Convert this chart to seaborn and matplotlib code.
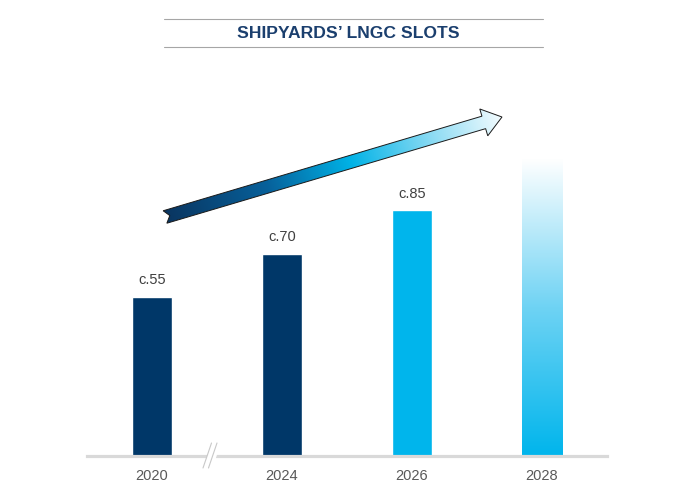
import numpy as np
import pandas as pd
import matplotlib
matplotlib.use("Agg")
import matplotlib.pyplot as plt
from matplotlib.patches import Polygon
from matplotlib.colors import LinearSegmentedColormap
import seaborn as sns

# ---- data ----
years = ["2020", "2024", "2026", "2028"]
slots = [55, 70, 85, 103]
value_labels = ["c.55", "c.70", "c.85", ""]
title = "SHIPYARDS\u2019 LNGC SLOTS"

NAVY = "#003768"
CYAN = "#00B5EC"

sns.set_theme(style="white")
plt.rcParams["font.family"] = ["Liberation Sans", "DejaVu Sans"]

W, H = 700, 488
fig = plt.figure(figsize=(W / 100, H / 100), dpi=100)

# main axes: baseline at y=456px, x from 87 to 607px
base_px = 456
scale = 159 / 55.0  # px per unit
ymax = 120
ax = fig.add_axes([87 / W, (H - base_px) / H, 520 / W, ymax * scale / H])

df = pd.DataFrame({"year": years, "slots": slots})
palette = {"2020": NAVY, "2024": NAVY, "2026": CYAN, "2028": CYAN}
sns.barplot(data=df, x="year", y="slots", hue="year", palette=palette,
            width=0.315, legend=False, ax=ax, saturation=1)
ax.set_xlim(-0.5, 3.5)
ax.set_ylim(0, ymax)
ax.set_xlabel("")
ax.set_ylabel("")
ax.set_yticks([])
for s in ["left", "right", "top"]:
    ax.spines[s].set_visible(False)
ax.spines["bottom"].set_color("#D9D9D9")
ax.spines["bottom"].set_linewidth(2.3)
ax.tick_params(axis="x", length=0, pad=9, labelsize=10.5, labelcolor="#595959")
ax.patch.set_alpha(0)

# value labels
for i, (v, lab) in enumerate(zip(slots, value_labels)):
    if lab:
        ax.annotate(lab, (i, v), xytext=(0, 7), textcoords="offset points",
                    ha="center", va="bottom", fontsize=10.5, color="#404040")

# gradient for 2028 bar (cyan at bottom fading to white at top)
patch = ax.patches[3]
patch.set_facecolor("none")
patch.set_edgecolor("none")
x0, y0 = patch.get_x(), patch.get_y()
pw, ph = patch.get_width(), patch.get_height()
grad_cmap = LinearSegmentedColormap.from_list(
    "bar", [(0, CYAN), (0.5, "#6FD3F4"), (1.0, "#FFFFFF")])
g = np.linspace(0, 1, 256).reshape(-1, 1)
im = ax.imshow(g, cmap=grad_cmap, extent=(x0, x0 + pw, y0, y0 + ph),
               origin="lower", aspect="auto", zorder=2)
im.set_clip_path(patch)
ax.set_xlim(-0.5, 3.5)
ax.set_ylim(0, ymax)

# overlay axes in pixel coordinates for decorations
ov = fig.add_axes([0, 0, 1, 1])
ov.set_xlim(0, W)
ov.set_ylim(H, 0)
ov.axis("off")
ov.patch.set_alpha(0)

# title with rules
ov.plot([164, 543], [19, 19], color="#A6A6A6", lw=0.8)
ov.plot([164, 543], [47, 47], color="#A6A6A6", lw=0.8)
ov.text(348, 34, title, ha="center", va="center", fontsize=12.6,
        fontweight="bold", color="#1B3F6E")

# axis break
ov.fill([204, 212, 220, 212], [468, 443, 443, 468], color="white", zorder=3)
ov.plot([203, 211.5], [468, 443], color="#C8C8C8", lw=0.8, zorder=4)
ov.plot([208.5, 217], [468, 443], color="#C8C8C8", lw=0.8, zorder=4)

# gradient arrow
S = np.array([165.0, 217.0])
E = np.array([502.0, 117.0])
u = (E - S) / np.linalg.norm(E - S)
n = np.array([u[1], -u[0]])
w, hw, hl, notch = 6.5, 14.0, 19.0, 5.0
B = E - u * hl
pts = np.array([
    S + n * w,
    B + n * w,
    B + n * hw,
    E,
    B - n * hw,
    B - n * w,
    S - n * w,
    S + u * notch,
])
arrow = Polygon(pts, closed=True, facecolor="none", edgecolor="#1a1a1a",
                lw=0.7, zorder=5)
ov.add_patch(arrow)
xmin, ymin = pts.min(axis=0)
xmax, ymax_a = pts.max(axis=0)
xs = np.linspace(xmin, xmax, 400)
ys = np.linspace(ymin, ymax_a, 150)
XX, YY = np.meshgrid(xs, ys)
L = np.linalg.norm(E - S)
T = ((XX - S[0]) * u[0] + (YY - S[1]) * u[1]) / L
arrow_cmap = LinearSegmentedColormap.from_list(
    "arr", [(0, "#0A3560"), (0.3, "#07609A"), (0.55, "#00B2E6"),
            (0.8, "#8FDCF4"), (1.0, "#F2FBFE")])
aim = ov.imshow(np.clip(T, 0, 1), cmap=arrow_cmap, vmin=0, vmax=1,
                extent=(xmin, xmax, ymax_a, ymin), origin="upper",
                aspect="auto", zorder=4)
aim.set_clip_path(arrow)
ov.set_xlim(0, W)
ov.set_ylim(H, 0)

fig.savefig("out.png", dpi=100)
